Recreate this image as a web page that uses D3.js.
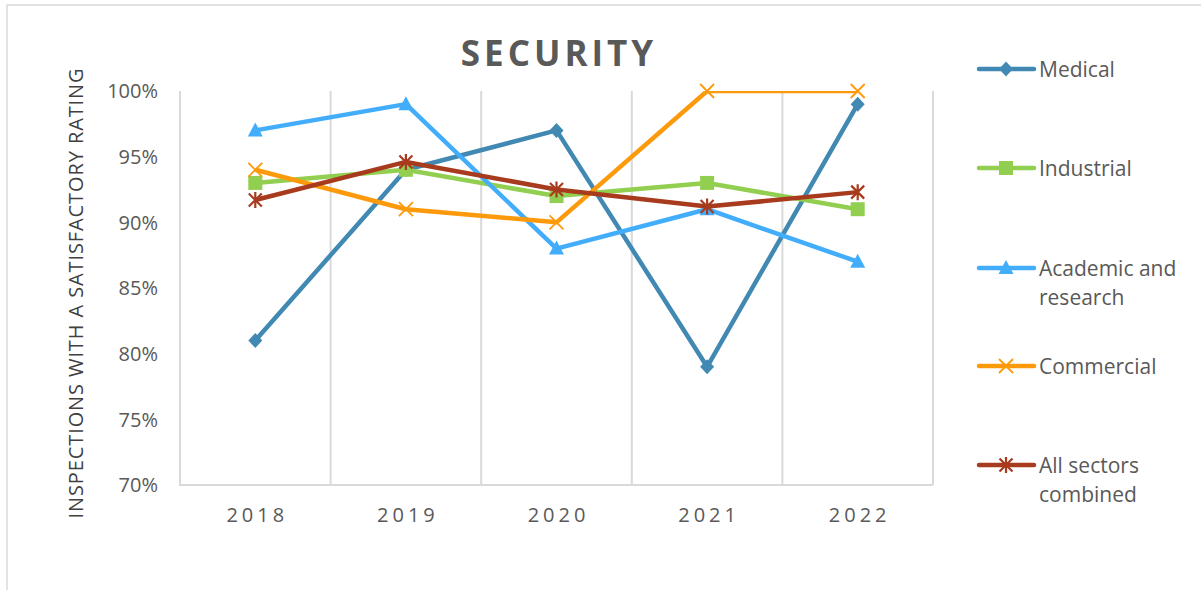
<!DOCTYPE html>
<html><head><meta charset="utf-8">
<script src="https://cdn.jsdelivr.net/npm/d3@7"></script>
<style>body{margin:0;background:#fff}svg{display:block}text{font-family:"Open Sans",sans-serif}</style>
</head><body>
<svg id="c" width="1201" height="590"></svg>
<script>
const years = ["2018","2019","2020","2021","2022"];
const medical = [0.81,0.94,0.97,0.79,0.99];
const industrial = [0.93,0.94,0.92,0.93,0.91];
const academic = [0.97,0.99,0.88,0.91,0.87];
const commercial = [0.94,0.91,0.90,1.00,1.00];
const allSectors = [0.917,0.946,0.925,0.912,0.923];
const yTicks = [0.70,0.75,0.80,0.85,0.90,0.95,1.00];
const seriesNames = ["Medical","Industrial","Academic and research","Commercial","All sectors combined"];
const legendLines = [["Medical"],["Industrial"],["Academic and","research"],["Commercial"],["All sectors","combined"]];
const colors = ["#4189b3","#92cf50","#42adfb","#fd9a0c","#a83b1e"];
const markers = ["diamond","square","triangle","x","star"];
const seriesValues = [medical,industrial,academic,commercial,allSectors];

const svg = d3.select("#c");
const L=180,R=933,T=91,B=485;
const x = d3.scaleBand().domain(years).range([L,R]).padding(0);
const y = d3.scaleLinear().domain([0.70,1.00]).range([B,T]);
const grid="#d9d9d9", txt="#595959";

// frame
svg.append("path").attr("d","M7,590 V5 H1201").attr("fill","none").attr("stroke",grid).attr("stroke-width",1.5);

// title
svg.append("text").attr("x",559).attr("y",66).attr("text-anchor","middle")
  .attr("font-size",35).attr("font-weight","bold").attr("letter-spacing",4).attr("fill",txt).text("SECURITY");

// vertical gridlines
svg.append("g").selectAll("line").data(years).join("line")
  .attr("x1",d=>x(d)+x.bandwidth()).attr("x2",d=>x(d)+x.bandwidth())
  .attr("y1",T).attr("y2",B).attr("stroke",grid).attr("stroke-width",2);
// axes lines
svg.append("path").attr("d",`M${L},${T} V${B} H${R}`).attr("fill","none").attr("stroke",grid).attr("stroke-width",2);

// y ticks
svg.append("g").selectAll("text").data(yTicks).join("text")
  .attr("x",158).attr("y",d=>y(d)).attr("dy","0.36em").attr("text-anchor","end")
  .attr("font-size",20).attr("fill",txt).text(d=>d3.format(".0%")(d));
// x ticks
svg.append("g").selectAll("text").data(years).join("text")
  .attr("x",d=>x(d)+x.bandwidth()/2+2).attr("y",522).attr("text-anchor","middle")
  .attr("font-size",20).attr("letter-spacing",4).attr("fill",txt).text(d=>d);
// y title
svg.append("text").attr("transform","translate(83,293) rotate(-90)").attr("text-anchor","middle")
  .attr("font-size",20).attr("letter-spacing",0.9).attr("fill","#404040").text("INSPECTIONS WITH A SATISFACTORY RATING");

// clip
svg.append("clipPath").attr("id","pc").append("rect").attr("x",L).attr("y",T).attr("width",R-L).attr("height",B-T);

function marker(g,type,cx,cy,color){
  if(type==="diamond"){
    g.append("path").attr("d",`M${cx},${cy-7.5}L${cx+7},${cy}L${cx},${cy+7.5}L${cx-7},${cy}Z`).attr("fill",color);
  } else if(type==="square"){
    g.append("rect").attr("x",cx-7).attr("y",cy-7).attr("width",14).attr("height",14).attr("fill",color);
  } else if(type==="triangle"){
    g.append("path").attr("d",`M${cx},${cy-8}L${cx+7.5},${cy+6}L${cx-7.5},${cy+6}Z`).attr("fill",color);
  } else if(type==="x"){
    g.append("path").attr("d",`M${cx-7},${cy-7}L${cx+7},${cy+7}M${cx+7},${cy-7}L${cx-7},${cy+7}`).attr("stroke",color).attr("stroke-width",1.8).attr("fill","none");
  } else if(type==="star"){
    g.append("path").attr("d",`M${cx-6.5},${cy-6.5}L${cx+6.5},${cy+6.5}M${cx+6.5},${cy-6.5}L${cx-6.5},${cy+6.5}M${cx},${cy-8}V${cy+8}`).attr("stroke",color).attr("stroke-width",2.2).attr("fill","none");
  }
}

const line = d3.line().x((d,i)=>x(years[i])+x.bandwidth()/2).y(d=>y(d));
seriesValues.forEach((vals,si)=>{
  const g = svg.append("g");
  g.append("path").attr("d",line(vals)).attr("fill","none").attr("stroke",colors[si])
    .attr("stroke-width",4.5).attr("stroke-linejoin","round").attr("clip-path","url(#pc)");
  vals.forEach((v,i)=>marker(g,markers[si],x(years[i])+x.bandwidth()/2,y(v),colors[si]));
});

// legend
const legY=[69,168,268,366,465];
seriesNames.forEach((n,si)=>{
  const g=svg.append("g");
  const yy=legY[si];
  g.append("line").attr("x1",979).attr("x2",1034).attr("y1",yy).attr("y2",yy).attr("stroke",colors[si]).attr("stroke-width",4.5).attr("stroke-linecap","round");
  marker(g,markers[si],1006,yy,colors[si]);
  const t=g.append("text").attr("x",1039).attr("y",yy).attr("font-size",21).attr("fill",txt);
  legendLines[si].forEach((s,k)=>t.append("tspan").attr("x",1039).attr("dy",k===0?"0.36em":"29px").text(s));
});
</script>
</body></html>
